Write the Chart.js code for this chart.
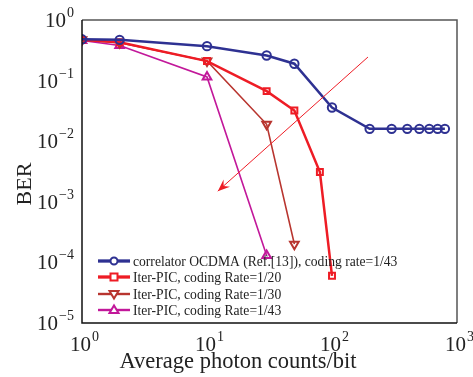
<!DOCTYPE html>
<html lang="en">
<head>
    <meta charset="UTF-8">
    <title>BER vs photon counts</title>
    <script src="https://cdn.jsdelivr.net/npm/chart.js@4"></script>
    <style>
        html, body { margin: 0; padding: 0; background: #fff; }
        #wrap { width: 473px; height: 377px; }
    </style>
</head>
<body>
<div id="wrap"><canvas id="berChart"></canvas></div>
<script>
// photon counts (x) and BER values
const corrX = [1, 2, 10, 30, 50, 100, 200, 300, 400, 500, 600, 700, 800];
const corrY = [0.48, 0.47, 0.37, 0.26, 0.19, 0.036, 0.016, 0.016, 0.016, 0.016, 0.016, 0.016, 0.016];
const pic20X = [1, 2, 10, 30, 50, 80, 100];
const pic20Y = [0.47, 0.43, 0.21, 0.067, 0.032, 0.0031, 0.00006];
const pic30X = [1, 2, 10, 30, 50];
const pic30Y = [0.47, 0.42, 0.21, 0.019, 0.0002];
const pic43X = [1, 2, 10, 30];
const pic43Y = [0.46, 0.38, 0.115, 0.00013];
const xTicks = [1, 10, 100, 1000];
const yTicks = [1, 0.1, 0.01, 0.001, 0.0001, 0.00001];
// arrow annotation: from (x, y) to (x, y)
const arrowFrom = [194, 0.245];
const arrowTo = [12.2, 0.0015];

const serif = '"Liberation Serif", "DejaVu Serif", serif';

function pts(xs, ys) {
    return xs.map((x, i) => ({ x: x, y: ys[i] }));
}

const series = [
    { label: 'correlator OCDMA (Ref.[13]), coding rate=1/43', data: pts(corrX, corrY), color: '#2e3192', style: 'circle', width: 2.5, radius: 4.2 },
    { label: 'Iter-PIC, coding Rate=1/20', data: pts(pic20X, pic20Y), color: '#ee1c25', style: 'rect', width: 2.5, radius: 4.2 },
    { label: 'Iter-PIC, coding Rate=1/30', data: pts(pic30X, pic30Y), color: '#b8352f', style: 'triangle', rotation: 180, width: 1.6, radius: 5 },
    { label: 'Iter-PIC, coding Rate=1/43', data: pts(pic43X, pic43Y), color: '#c2189a', style: 'triangle', width: 1.6, radius: 5 }
];

const overlay = {
    id: 'overlay',
    afterDraw(chart) {
        const ctx = chart.ctx;
        const xs = chart.scales.x, ys = chart.scales.y;
        const a = chart.chartArea;
        ctx.save();

        // frame
        ctx.lineWidth = 1.5;
        ctx.strokeStyle = '#555';
        ctx.beginPath();
        ctx.moveTo(a.left, a.top); ctx.lineTo(a.right, a.top); ctx.lineTo(a.right, a.bottom);
        ctx.stroke();
        ctx.strokeStyle = '#111';
        ctx.beginPath();
        ctx.moveTo(a.left, a.top); ctx.lineTo(a.left, a.bottom); ctx.lineTo(a.right, a.bottom);
        ctx.stroke();

        // arrow
        const x1 = xs.getPixelForValue(arrowFrom[0]), y1 = ys.getPixelForValue(arrowFrom[1]);
        const x2 = xs.getPixelForValue(arrowTo[0]), y2 = ys.getPixelForValue(arrowTo[1]);
        ctx.strokeStyle = '#ee1c25';
        ctx.fillStyle = '#ee1c25';
        ctx.lineWidth = 1;
        ctx.beginPath(); ctx.moveTo(x1, y1); ctx.lineTo(x2, y2); ctx.stroke();
        const ang = Math.atan2(y2 - y1, x2 - x1);
        const L = 13, W = 0.38;
        ctx.beginPath();
        ctx.moveTo(x2, y2);
        ctx.lineTo(x2 - L * Math.cos(ang - W), y2 - L * Math.sin(ang - W));
        ctx.lineTo(x2 - 0.6 * L * Math.cos(ang), y2 - 0.6 * L * Math.sin(ang));
        ctx.lineTo(x2 - L * Math.cos(ang + W), y2 - L * Math.sin(ang + W));
        ctx.closePath();
        ctx.fill();

        // tick labels with exponents
        ctx.fillStyle = '#222';
        ctx.textBaseline = 'alphabetic';
        function power(v) { return Math.round(Math.log10(v)); }
        function label(v, px, py, align) {
            const e = power(v) < 0 ? '\u2212' + Math.abs(power(v)) : String(power(v));
            ctx.font = '21px ' + serif;
            const bw = ctx.measureText('10').width;
            ctx.font = '14px ' + serif;
            const ew = ctx.measureText(e).width;
            let left = align === 'right' ? px - bw - ew : px - (bw + ew) / 2;
            ctx.font = '21px ' + serif;
            ctx.textAlign = 'left';
            ctx.fillText('10', left, py);
            ctx.font = '14px ' + serif;
            ctx.fillText(e, left + bw + 1, py - 10);
        }
        xTicks.forEach(v => label(v, xs.getPixelForValue(v) + 2, a.bottom + 28, 'center'));
        yTicks.forEach(v => label(v, a.left - 9, ys.getPixelForValue(v) + 7, 'right'));

        // axis titles
        ctx.font = '22.5px ' + serif;
        ctx.textAlign = 'center';
        ctx.fillText('Average photon counts/bit', 238, 368);
        ctx.save();
        ctx.translate(31, 184);
        ctx.rotate(-Math.PI / 2);
        ctx.font = '22px ' + serif;
        ctx.fillText('BER', 0, 0);
        ctx.restore();

        // legend
        ctx.font = '13.6px ' + serif;
        ctx.textAlign = 'left';
        const rowsY = [261, 277, 294, 310];
        series.forEach((s, i) => {
            const y = rowsY[i];
            ctx.strokeStyle = s.color;
            ctx.lineWidth = s.width + 0.8;
            ctx.beginPath(); ctx.moveTo(98, y); ctx.lineTo(130, y); ctx.stroke();
            ctx.lineWidth = 2;
            ctx.fillStyle = '#fff';
            const mx = 114;
            ctx.beginPath();
            if (s.style === 'circle') {
                ctx.arc(mx, y, 3.5, 0, Math.PI * 2);
            } else if (s.style === 'rect') {
                ctx.rect(mx - 3.5, y - 3.5, 7, 7);
            } else if (s.rotation) {
                ctx.moveTo(mx - 4.5, y - 3); ctx.lineTo(mx + 4.5, y - 3); ctx.lineTo(mx, y + 4.5); ctx.closePath();
            } else {
                ctx.moveTo(mx - 4.5, y + 3); ctx.lineTo(mx + 4.5, y + 3); ctx.lineTo(mx, y - 4.5); ctx.closePath();
            }
            ctx.fill(); ctx.stroke();
            ctx.fillStyle = '#222';
            ctx.fillText(s.label, 133, y + 4.5);
        });
        ctx.restore();
    }
};

new Chart(document.getElementById('berChart'), {
    type: 'line',
    data: {
        datasets: series.map(s => ({
            label: s.label,
            data: s.data,
            borderColor: s.color,
            backgroundColor: '#fff',
            pointBorderColor: s.color,
            pointBackgroundColor: 'rgba(255,255,255,0)',
            borderWidth: s.width,
            pointBorderWidth: 2,
            pointStyle: s.style,
            pointRotation: s.rotation || 0,
            pointRadius: s.radius,
            tension: 0,
            fill: false
        }))
    },
    plugins: [overlay],
    options: {
        responsive: true,
        maintainAspectRatio: false,
        animation: false,
        layout: { padding: { left: 0, right: 16, top: 20, bottom: 0 } },
        plugins: {
            legend: { display: false },
            tooltip: { enabled: false }
        },
        scales: {
            x: {
                type: 'logarithmic',
                min: 1, max: 1000,
                grid: { display: false, drawTicks: false },
                border: { display: false },
                ticks: { display: false },
                afterFit(scale) { scale.height = 54; }
            },
            y: {
                type: 'logarithmic',
                min: 0.00001, max: 1,
                grid: { display: false, drawTicks: false },
                border: { display: false },
                ticks: { display: false },
                afterFit(scale) { scale.width = 82; }
            }
        }
    }
});
</script>
</body>
</html>
